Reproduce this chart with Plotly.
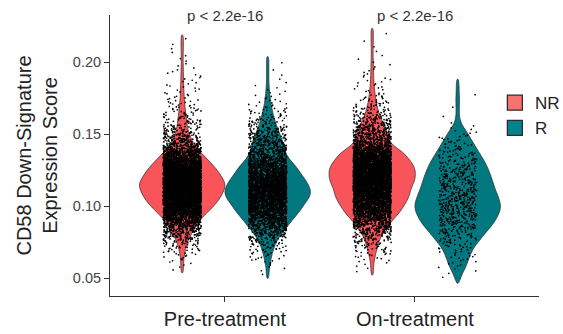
import numpy as np
import plotly.graph_objects as go

# ---------------- data ----------------
timepoints = ["Pre-treatment", "On-treatment"]
responses = ["NR", "R"]
p_labels = ["p < 2.2e-16", "p < 2.2e-16"]

# violin profiles: score values (top -> bottom) and relative density width
pre_nr_y = [0.2190, 0.1993, 0.1761, 0.1622, 0.1530, 0.1437, 0.1368, 0.1299, 0.1229,
            0.1148, 0.1067, 0.0997, 0.0917, 0.0835, 0.0743, 0.0650, 0.0539]
pre_nr_w = [0.01, 0.023, 0.047, 0.093, 0.14, 0.27, 0.457, 0.68, 0.87,
            1.0, 0.90, 0.72, 0.457, 0.27, 0.116, 0.047, 0.01]

pre_r_y = [0.2039, 0.1854, 0.1715, 0.1576, 0.1460, 0.1356, 0.1252, 0.1101,
           0.0997, 0.0870, 0.0766, 0.0674, 0.0581, 0.0500]
pre_r_w = [0.01, 0.03, 0.076, 0.19, 0.34, 0.45, 0.72, 1.0,
           0.82, 0.485, 0.23, 0.11, 0.045, 0.01]

on_nr_y = [0.2236, 0.2028, 0.1796, 0.1657, 0.1542, 0.1449, 0.1356, 0.1264, 0.1194,
           0.1125, 0.1056, 0.0963, 0.0893, 0.0801, 0.0708, 0.0615, 0.0523]
on_nr_w = [0.01, 0.023, 0.06, 0.15, 0.31, 0.42, 0.78, 0.99, 1.0,
           0.915, 0.84, 0.65, 0.45, 0.23, 0.115, 0.046, 0.01]

on_r_y = [0.1882, 0.1761, 0.1599, 0.1507, 0.1414, 0.1275, 0.1136, 0.0997,
          0.0905, 0.0789, 0.0697, 0.0581, 0.0535, 0.0465]
on_r_w = [0.01, 0.04, 0.06, 0.23, 0.42, 0.69, 0.86, 1.0,
          0.885, 0.58, 0.35, 0.19, 0.115, 0.01]

# approximate number of cells per group
pre_nr_n = 6500
pre_r_n = 3600
on_nr_n = 5500
on_r_n = 650

# ---------------- styling ----------------
FONT = "Liberation Sans, Arial, sans-serif"
violin_colors = {"NR": "#F8545A", "R": "#01787F"}
legend_colors = {"NR": "#F8736D", "R": "#02828A"}
OUTLINE = "#2b2b2b"
DODGE = 0.225      # half of dodge width
HALF_W = 0.225     # max half-width of a violin
JITTER = 0.10      # half-width of jitter
SHARPEN = 1.5      # kernel smoothing widens the violin tails vs. the raw cells

groups = [
    (1, "NR", pre_nr_y, pre_nr_w, pre_nr_n),
    (1, "R", pre_r_y, pre_r_w, pre_r_n),
    (2, "NR", on_nr_y, on_nr_w, on_nr_n),
    (2, "R", on_r_y, on_r_w, on_r_n),
]


def values_from_profile(ys, ws, n):
    ys = np.asarray(ys)[::-1]
    ws = np.asarray(ws)[::-1]
    grid = np.linspace(ys[0], ys[-1], 3000)
    dens = np.interp(grid, ys, ws) ** SHARPEN
    cdf = np.cumsum(dens)
    cdf = (cdf - cdf[0]) / (cdf[-1] - cdf[0])
    q = (np.arange(n) + 0.5) / n
    return np.interp(q, cdf, grid)


def jitter_fraction(n, seed):
    # deterministic hash-based scatter in [0, 1)
    i = np.arange(n) + seed
    return np.abs(np.sin(i * 12.9898 + seed * 78.233) * 43758.5453) % 1.0


fig = go.Figure()

# violins
for pos, resp, ys, ws, n in groups:
    cx = pos + (-DODGE if resp == "NR" else DODGE)
    ys = np.asarray(ys)
    ws = np.asarray(ws) * HALF_W
    xs = np.concatenate([cx + ws, (cx - ws)[::-1], [cx + ws[0]]])
    yy = np.concatenate([ys, ys[::-1], [ys[0]]])
    fig.add_trace(go.Scatter(
        x=xs, y=yy, mode="lines", fill="toself",
        fillcolor=violin_colors[resp],
        line=dict(color=OUTLINE, width=0.7, shape="spline", smoothing=1.0),
        hoverinfo="skip", showlegend=False))

# jittered points
for k, (pos, resp, ys, ws, n) in enumerate(groups):
    cx = pos + (-DODGE if resp == "NR" else DODGE)
    vals = values_from_profile(ys, ws, n)
    frac = jitter_fraction(n, k + 1)
    xj = cx + (frac * 2 - 1) * JITTER
    fig.add_trace(go.Scatter(
        x=xj, y=vals, mode="markers",
        marker=dict(color="black", size=1.7, line=dict(width=0)),
        hoverinfo="skip", showlegend=False))

# legend entries
for resp in responses:
    fig.add_trace(go.Scatter(
        x=[None], y=[None], mode="markers", name=resp,
        marker=dict(symbol="square", size=15, color=legend_colors[resp],
                    line=dict(color=OUTLINE, width=1.3))))

# p-value labels
for i, lab in enumerate(p_labels):
    fig.add_annotation(x=i + 1, y=1.0, xref="x", yref="paper",
                       text=lab, showarrow=False, yanchor="middle",
                       font=dict(family=FONT, size=15, color="#333333"))

fig.update_layout(
    width=563, height=334,
    margin=dict(l=110, r=24, t=15, b=38, autoexpand=False),
    paper_bgcolor="white", plot_bgcolor="white",
    font=dict(family=FONT, color="#222222"),
    showlegend=True,
    legend=dict(xref="container", yref="container",
                x=0.879, y=0.745, xanchor="left", yanchor="top",
                font=dict(family=FONT, size=17, color="#222222"),
                bgcolor="rgba(0,0,0,0)", borderwidth=0,
                tracegroupgap=0, itemsizing="trace"),
)

fig.update_xaxes(
    range=[0.395, 2.653], tickvals=[1, 2], ticktext=timepoints,
    showline=True, linecolor="#333333", linewidth=1,
    ticks="outside", ticklen=5, tickcolor="#333333", tickwidth=1,
    showgrid=False, zeroline=False,
    tickfont=dict(family=FONT, size=20, color="#222222"))

fig.update_yaxes(
    range=[0.0377, 0.2329], tickvals=[0.05, 0.10, 0.15, 0.20], tickformat=".2f",
    showline=True, linecolor="#333333", linewidth=1,
    ticks="outside", ticklen=5, tickcolor="#333333", tickwidth=1,
    showgrid=False, zeroline=False,
    tickfont=dict(family=FONT, size=14.5, color="#444444"),
    title=dict(text="CD58 Down-Signature<br>Expression Score", standoff=9,
               font=dict(family=FONT, size=20, color="#222222")))

fig.write_html("out.html")
